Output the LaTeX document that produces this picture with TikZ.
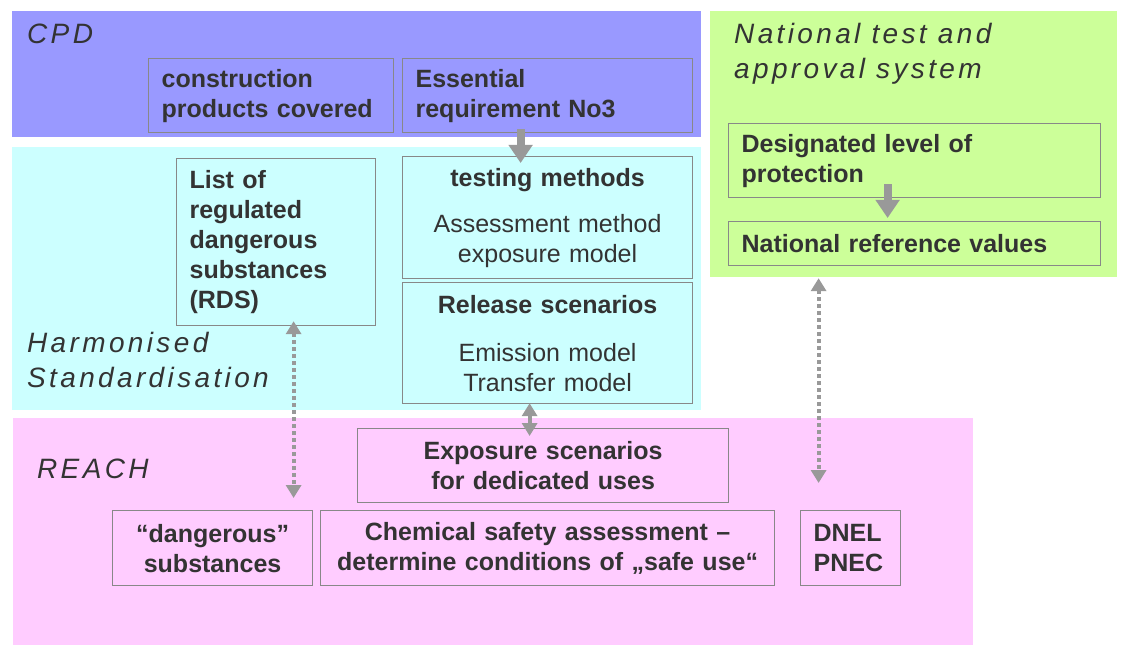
\documentclass[tikz,border=0pt]{standalone}
\usepackage{fontspec}
\setmainfont{Liberation Sans}
\usetikzlibrary{arrows.meta}
\definecolor{cpdblue}{HTML}{9999FF}
\definecolor{natgreen}{HTML}{CCFF99}
\definecolor{harmcyan}{HTML}{CCFFFF}
\definecolor{reachpink}{HTML}{FFCCFF}
\definecolor{txtgray}{HTML}{333333}
\definecolor{boxgray}{HTML}{888888}
\definecolor{arrgray}{HTML}{999999}
\begin{document}
\begin{tikzpicture}[x=1pt,y=-1pt,text=txtgray,
	box/.style={draw=boxgray,line width=1.2pt,inner xsep=13pt,inner ysep=0pt,anchor=north west,align=left,font=\fontsize{25}{30}\selectfont\bfseries},
	cbox/.style={box,align=center},
	band/.style={anchor=base west,inner sep=0pt,align=left,font=\fontsize{28}{35}\selectfont\itshape\addfontfeature{LetterSpace=12}},
	bigarrow/.style={arrgray,line width=8pt,-{Triangle[width=23pt,length=18pt]}},
	twoarrow/.style={arrgray,line width=4pt,{Triangle[width=15pt,length=13pt]}-{Triangle[width=15pt,length=13pt]}},
	dotarrow/.style={twoarrow,dash pattern=on 4pt off 3pt}]
	\useasboundingbox (0,0) rectangle (1122,647);
	% bands
	\fill[cpdblue] (12,11) rectangle (701,137);
	\fill[natgreen] (710,11) rectangle (1117,277);
	\fill[harmcyan] (12,147) rectangle (701,410);
	\fill[reachpink] (13,418) rectangle (973,645);
	\node[band] (cpdlbl) at (27,44) {CPD};
	\node[band] (natlbl) at (734,79) {National test and\\approval system};
	\node[band] (harmlbl) at (27,387) {Harmonised\\Standardisation};
	\node[band] (reachlbl) at (37,478) {REACH};
	% boxes
	\node[box,text width=219pt,minimum height=74pt] (cpc) at (148,58) {construction\\products covered};
	\node[box,text width=264pt,minimum height=74pt] (esr) at (402,58) {Essential\\requirement No3};
	\node[box,text width=173pt,minimum height=167pt] (rds) at (176,158) {List of\\regulated\\dangerous\\substances\\(RDS)};
	\node[cbox,text width=264pt,minimum height=122pt] (test) at (402,156) {testing methods\\[16pt]\mdseries Assessment method\\exposure model};
	\node[cbox,text width=264pt,minimum height=121pt] (release) at (402,282) {Release scenarios\\[18pt]\mdseries Emission model\\Transfer model};
	\node[box,text width=346pt,minimum height=74pt] (dlp) at (728,123) {Designated level of\\protection};
	\node[box,text width=346pt,minimum height=44pt] (nrv) at (728,221) {National reference values};
	\node[cbox,text width=345pt,minimum height=74pt] (expo) at (357,428) {Exposure scenarios\\for dedicated uses};
	\node[cbox,text width=174pt,minimum height=75pt] (dang) at (112,510) {“dangerous”\\substances};
	\node[cbox,text width=428pt,minimum height=75pt] (csa) at (320,510) {Chemical safety assessment –\\determine conditions of „safe use“};
	\node[box,text width=74pt,minimum height=75pt] (dnel) at (800,510) {DNEL\\PNEC};
	% arrows
	\draw[bigarrow] ([xshift=-27pt,yshift=4pt]esr.south) -- ([xshift=-27pt,yshift=-7pt]test.north);
	\draw[bigarrow] ([xshift=-27pt,yshift=14pt]dlp.south) -- ([xshift=-27pt,yshift=3pt]nrv.north);
	\draw[twoarrow] ([xshift=-18pt,yshift=1pt]release.south) -- ([xshift=-13.5pt,yshift=-8pt]expo.north);
	\draw[dotarrow] ([xshift=17.5pt,yshift=5pt]rds.south) -- ([xshift=81pt,yshift=12pt]dang.north);
	\draw[dotarrow] ([xshift=-96pt,yshift=-12pt]nrv.south) -- ([xshift=-32pt,yshift=27pt]dnel.north);
\end{tikzpicture}
\end{document}
